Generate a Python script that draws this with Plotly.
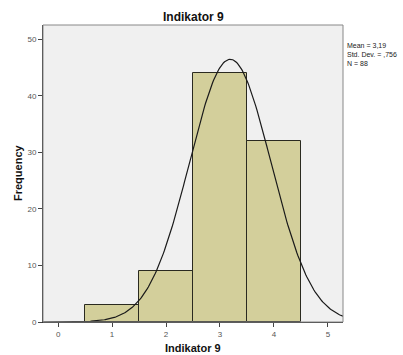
import numpy as np
import plotly.graph_objects as go

bin_centers = [1, 2, 3, 4]
counts = [3, 9, 44, 32]
mean_val = 3.19
std_val = 0.756
n_val = 88
x_ticks = [0, 1, 2, 3, 4, 5]
y_ticks = [0, 10, 20, 30, 40, 50]

W, H = 403, 355
L, R, T, B = 43, 60, 25, 33
xr = [-0.28, 5.28]
xs = np.linspace(xr[0], xr[1], 300)
ys = n_val * 1.0 / (std_val * np.sqrt(2 * np.pi)) * np.exp(-0.5 * ((xs - mean_val) / std_val) ** 2)

pw, ph = W - L - R, H - T - B

def px(xpix):
    return (xpix - L) / pw

def py(ypix):
    return 1 - (ypix - T) / ph

fig = go.Figure()
fig.add_trace(go.Bar(x=bin_centers, y=counts, width=1,
                     marker=dict(color="#D3CF9B", line=dict(color="#2a2a20", width=1))))
fig.add_trace(go.Scatter(x=xs, y=ys, mode="lines", line=dict(color="#1a1a1a", width=1.2)))

fig.update_layout(
    width=W, height=H,
    margin=dict(l=L, r=R, t=T, b=B, autoexpand=False),
    paper_bgcolor="white", plot_bgcolor="#F0F0F0",
    showlegend=False, bargap=0,
    font=dict(family="Arial, Liberation Sans, sans-serif", color="#222"),
    xaxis=dict(range=xr, tickvals=x_ticks, ticks="outside", ticklen=4, tickcolor="#444",
               tickfont=dict(size=8, color="#555"), showgrid=False, zeroline=False,
               showline=True, linecolor="#333", linewidth=1, automargin=False),
    yaxis=dict(range=[0, 52.5], tickvals=y_ticks, ticks="outside", ticklen=4, tickcolor="#444",
               tickfont=dict(size=8, color="#555"), showgrid=False, zeroline=False,
               showline=True, linecolor="#333", linewidth=1, automargin=False),
    shapes=[dict(type="rect", xref="paper", yref="paper", x0=0, y0=0, x1=1, y1=1,
                 line=dict(color="#888", width=1), fillcolor="rgba(0,0,0,0)", layer="above")],
    annotations=[
        dict(xref="paper", yref="paper", x=px(193), y=py(17), xanchor="center", yanchor="middle",
             showarrow=False, text="<b>Indikator 9</b>", font=dict(size=12, color="#111")),
        dict(xref="paper", yref="paper", x=px(193), y=py(348), xanchor="center", yanchor="middle",
             showarrow=False, text="<b>Indikator 9</b>", font=dict(size=11, color="#111")),
        dict(xref="paper", yref="paper", x=px(18), y=py(173), xanchor="center", yanchor="middle",
             showarrow=False, textangle=-90, text="<b>Frequency</b>", font=dict(size=11, color="#111")),
        dict(xref="paper", yref="paper", x=px(345), y=py(40), xanchor="left", yanchor="top",
             align="left", showarrow=False,
             text=f"Mean = 3,19<br>Std. Dev. = ,756<br>N = {n_val}",
             font=dict(size=7, color="#222")),
    ]
)

fig.write_html("out.html", config={"displayModeBar": False},
               post_script="document.body.style.margin='0';document.body.style.overflow='hidden';")
